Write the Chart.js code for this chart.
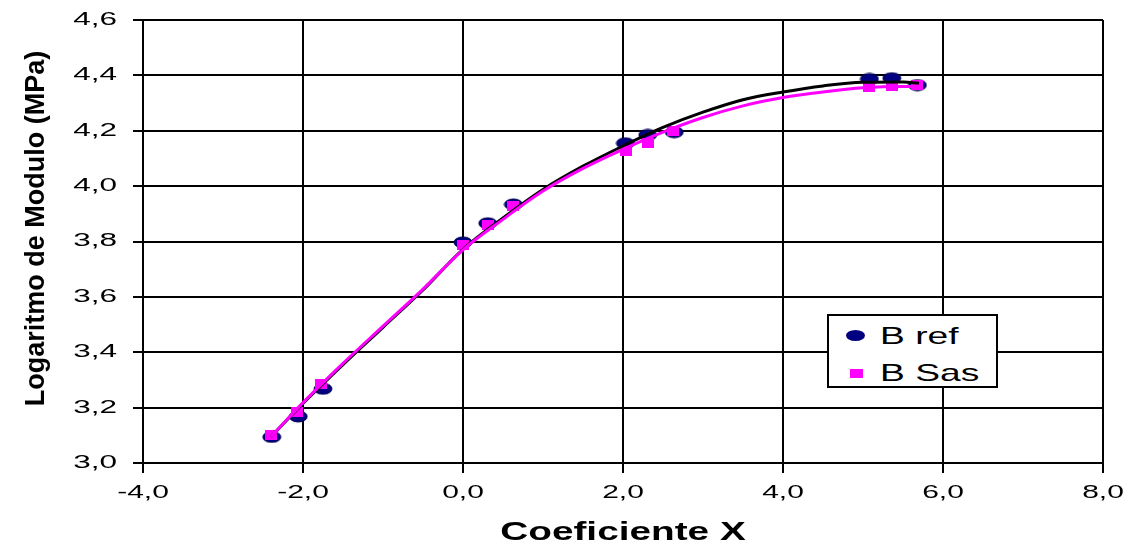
<!DOCTYPE html>
<html>
<head>
<meta charset="utf-8">
<script src="https://cdn.jsdelivr.net/npm/chart.js@4.4.1/dist/chart.umd.min.js"></script>
<style>
  html, body { margin: 0; padding: 0; background: #fff; }
  #wrap { position: relative; width: 1128px; height: 544px; }
  #legend {
    position: absolute; left: 827px; top: 314px; width: 171px; height: 74px;
    box-sizing: border-box; border: 2px solid #000; background: #fff;
    font-family: 'Liberation Sans', Arial, sans-serif; font-size: 24px; color: #000;
  }
  #legend .item { position: absolute; left: 0; height: 30px; width: 100%; }
  #legend .lbl { position: absolute; left: 51px; top: 0; line-height: 30px; transform: scaleX(1.55); transform-origin: left center; white-space: nowrap; }
  #legend .mk-ref { position: absolute; left: 17px; top: 9px; width: 19px; height: 11px; border-radius: 50%; background: #000080; }
  #legend .mk-sas { position: absolute; left: 21px; top: 11px; width: 13px; height: 9px; background: #ff00ff; }
</style>
</head>
<body>
<div id="wrap">
  <canvas id="chart" width="1128" height="544"></canvas>
  <div id="legend"></div>
</div>
<script>
// pontos medidos
const refX = [-2.39, -2.06, -1.75, 0.0, 0.31, 0.63, 2.03, 2.31, 2.64, 5.08, 5.36, 5.68];
const refY = [3.094, 3.168, 3.268, 3.797, 3.866, 3.934, 4.155, 4.185, 4.195, 4.387, 4.390, 4.365];
const sasX = [-2.40, -2.08, -1.77, 0.0, 0.31, 0.63, 2.04, 2.31, 2.63, 5.08, 5.36, 5.68];
const sasY = [3.102, 3.184, 3.285, 3.787, 3.860, 3.928, 4.127, 4.157, 4.200, 4.358, 4.362, 4.367];

// curvas ajustadas
const fitX   = [-2.4, -2.0, -1.5, -1.0, -0.5, 0.0, 0.5, 1.0, 1.5, 2.0, 2.5, 3.0, 3.5, 4.0, 4.5, 5.0, 5.5, 5.7];
const fitRef = [3.095, 3.215, 3.355, 3.490, 3.625, 3.772, 3.885, 3.988, 4.072, 4.145, 4.212, 4.267, 4.312, 4.340, 4.362, 4.375, 4.376, 4.372];
const fitSas = [3.095, 3.218, 3.360, 3.494, 3.628, 3.770, 3.880, 3.982, 4.064, 4.133, 4.195, 4.248, 4.290, 4.320, 4.340, 4.355, 4.360, 4.360];

const xTicks = { min: -4, max: 8, step: 2 };
const yTicks = { min: 3.0, max: 4.6, step: 0.2 };

const FONT = "'Liberation Sans', Arial, sans-serif";
const toPts = (xs, ys) => xs.map((x, i) => ({ x: x, y: ys[i] }));
const fmt = v => v.toFixed(1).replace('.', ',');

function ellipseMarker() {
    const c = document.createElement('canvas');
    c.width = 20; c.height = 13;
    const g = c.getContext('2d');
    g.beginPath();
    g.ellipse(10, 6.5, 9, 5.5, 0, 0, Math.PI * 2);
    g.fillStyle = '#000080';
    g.fill();
    g.lineWidth = 1;
    g.strokeStyle = '#00004a';
    g.stroke();
    return c;
}

function squareMarker() {
    const c = document.createElement('canvas');
    c.width = 12; c.height = 10;
    const g = c.getContext('2d');
    g.fillStyle = '#ff00ff';
    g.fillRect(0, 0, 12, 10);
    return c;
}

// rótulos esticados na horizontal, como no original
const stretchedLabels = {
    id: 'stretchedLabels',
    afterDraw(chart) {
        const ctx = chart.ctx;
        const area = chart.chartArea;
        const xs = chart.scales.x, ys = chart.scales.y;
        ctx.save();
        ctx.fillStyle = '#000';

        ctx.font = '18px ' + FONT;
        ctx.textAlign = 'right';
        ctx.textBaseline = 'middle';
        ys.ticks.forEach(t => {
            ctx.save();
            ctx.translate(area.left - 26, ys.getPixelForValue(t.value));
            ctx.scale(1.75, 1);
            ctx.fillText(fmt(t.value), 0, 0);
            ctx.restore();
        });

        ctx.font = '19px ' + FONT;
        ctx.textAlign = 'center';
        xs.ticks.forEach(t => {
            ctx.save();
            ctx.translate(xs.getPixelForValue(t.value), area.bottom + 30);
            ctx.scale(1.58, 1);
            ctx.fillText(fmt(t.value), 0, 0);
            ctx.restore();
        });

        ctx.font = 'bold 25px ' + FONT;
        ctx.save();
        ctx.translate((area.left + area.right) / 2, 533);
        ctx.scale(1.55, 1);
        ctx.fillText('Coeficiente X', 0, 0);
        ctx.restore();

        ctx.font = 'bold 27px ' + FONT;
        ctx.textBaseline = 'alphabetic';
        ctx.translate(44, (area.top + area.bottom) / 2 - 13);
        ctx.rotate(-Math.PI / 2);
        ctx.fillText('Logaritmo de Modulo (MPa)', 0, 0);
        ctx.restore();
    }
};

const datasets = [
    {
        label: 'fit Sas',
        type: 'line',
        data: toPts(fitX, fitSas),
        borderColor: '#ff00ff',
        borderWidth: 3,
        pointRadius: 0,
        tension: 0.4,
        cubicInterpolationMode: 'monotone',
        order: 0
    },
    {
        label: 'fit ref',
        type: 'line',
        data: toPts(fitX, fitRef),
        borderColor: '#000000',
        borderWidth: 3,
        pointRadius: 0,
        tension: 0.4,
        cubicInterpolationMode: 'monotone',
        order: 1
    },
    {
        label: 'B Sas',
        data: toPts(sasX, sasY),
        pointStyle: squareMarker(),
        order: 2
    },
    {
        label: 'B ref',
        data: toPts(refX, refY),
        pointStyle: ellipseMarker(),
        order: 3
    }
];

new Chart(document.getElementById('chart').getContext('2d'), {
    type: 'scatter',
    data: { datasets: datasets },
    options: {
        responsive: false,
        animation: false,
        layout: { padding: { left: 133, right: 25, top: 20, bottom: 71 } },
        plugins: {
            legend: { display: false },
            tooltip: { enabled: false }
        },
        scales: {
            x: {
                type: 'linear',
                min: xTicks.min, max: xTicks.max,
                ticks: { stepSize: xTicks.step, display: false },
                grid: { color: '#000', lineWidth: 2, tickLength: 10, drawTicks: true },
                border: { display: true, color: '#000', width: 2 }
            },
            y: {
                min: yTicks.min, max: yTicks.max,
                ticks: { stepSize: yTicks.step, display: false },
                grid: { color: '#000', lineWidth: 2, tickLength: 10, drawTicks: true },
                border: { display: true, color: '#000', width: 2 }
            }
        }
    },
    plugins: [stretchedLabels]
});

// legenda
const legendItems = [
    { label: 'B ref', cls: 'mk-ref', top: 5 },
    { label: 'B Sas', cls: 'mk-sas', top: 42 }
];
document.getElementById('legend').innerHTML = legendItems.map(it =>
    '<div class="item" style="top:' + it.top + 'px"><span class="' + it.cls + '"></span><span class="lbl">' + it.label + '</span></div>'
).join('');
</script>
</body>
</html>
